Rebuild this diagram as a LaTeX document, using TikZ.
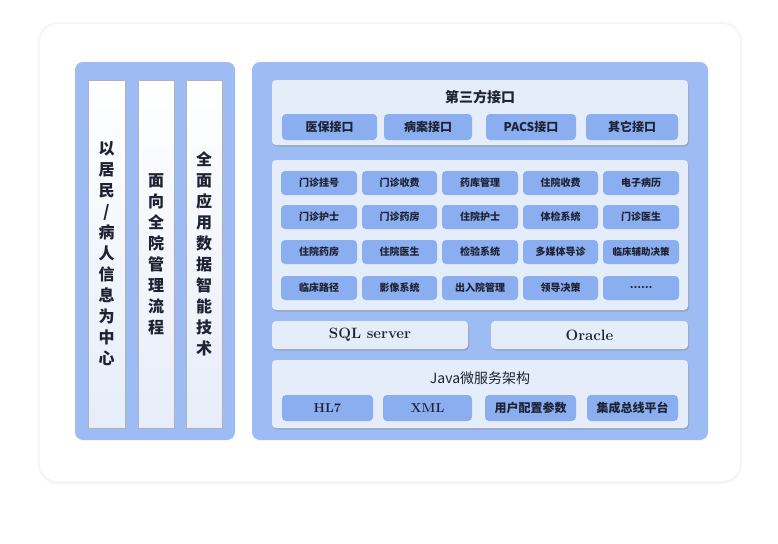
\documentclass[tikz,border=0pt]{standalone}
\usepackage{fontspec}
\newfontfamily\cjk{Noto Sans CJK SC}
\usetikzlibrary{shadows}
\definecolor{panel}{HTML}{9DBCF3}
\definecolor{btn}{HTML}{8AAEEF}
\definecolor{lite}{HTML}{E6EDFA}
\definecolor{txt}{HTML}{1E2233}
\begin{document}
\begin{tikzpicture}[x=1pt,y=-1pt,
 panelS/.style={fill=panel,draw=none,rounded corners=8pt},
 box/.style={fill=lite,draw=none,rounded corners=4pt,drop shadow={shadow xshift=1pt,shadow yshift=-1.5pt,fill=black!45}},
 col/.style={top color=white,bottom color=lite,draw=black!30,line width=0.4pt},
 btn/.style={fill=btn,draw=none,rounded corners=4pt,font=\cjk\bfseries\fontsize{10}{12}\selectfont,text=txt},
 bbtn/.style={btn,font=\cjk\bfseries\fontsize{12}{14}\selectfont},
 vt/.style={font=\cjk\bfseries\fontsize{16}{21}\selectfont,text=txt,align=center}]
\useasboundingbox (0,0) rectangle (778,543);
\fill[white] (0,0) rectangle (778,543);
\fill[black!4,rounded corners=20pt] (38,22) rectangle (742,484);
\fill[white,rounded corners=18pt] (40,24) rectangle (740,481);
\fill[panelS] (75,62) rectangle (235,440);
\fill[panelS] (252,62) rectangle (708,440);
% columns
\draw[col] (88,80) rectangle (125,428);
\draw[col] (138,80) rectangle (174,428);
\draw[col] (186,80) rectangle (222,428);
\node[vt] (c1) at (106.5,254) {以\\居\\民\\/\\病\\人\\信\\息\\为\\中\\心};
\node[vt] (c2) at (156,254) {面\\向\\全\\院\\管\\理\\流\\程};
\node[vt] (c3) at (204,254) {全\\面\\应\\用\\数\\据\\智\\能\\技\\术};
% third party
\fill[box] (272,80) rectangle (688,145);
\node[font=\cjk\bfseries\fontsize{14}{16}\selectfont,text=txt] (tp) at (480,97) {第三方接口};
\node[bbtn,minimum width=95pt,minimum height=26pt] (i1) at (329.5,127) {医保接口};
\node[bbtn,minimum width=88pt,minimum height=26pt] (i2) at (428,127) {病案接口};
\node[bbtn,minimum width=90pt,minimum height=26pt] (i3) at (531,127) {PACS接口};
\node[bbtn,minimum width=92pt,minimum height=26pt] (i4) at (632,127) {其它接口};
% modules
\fill[box] (272,160) rectangle (688,310);
\def\mrow#1#2#3#4#5#6{%
 \node[btn,minimum width=76pt,minimum height=24pt] (m#1a) at (319,#2) {#3};
 \node[btn,minimum width=75pt,minimum height=24pt] (m#1b) at (399.5,#2) {#4};
 \node[btn,minimum width=76pt,minimum height=24pt] (m#1c) at (480,#2) {#5};
 \node[btn,minimum width=75pt,minimum height=24pt] (m#1d) at (560.5,#2) {#6};}
\mrow{1}{183}{门诊挂号}{门诊收费}{药库管理}{住院收费}
\node[btn,minimum width=76pt,minimum height=24pt] (m1e) at (641,183) {电子病历};
\mrow{2}{217}{门诊护士}{门诊药房}{住院护士}{体检系统}
\node[btn,minimum width=76pt,minimum height=24pt] (m2e) at (641,217) {门诊医生};
\mrow{3}{252}{住院药房}{住院医生}{检验系统}{多媒体导诊}
\node[btn,minimum width=76pt,minimum height=24pt,font=\cjk\bfseries\fontsize{9.5}{12}\selectfont] (m3e) at (641,252) {临床辅助决策};
\mrow{4}{288}{临床路径}{影像系统}{出入院管理}{领导决策}
\node[btn,minimum width=76pt,minimum height=24pt] (m4e) at (641,288) {……};
% db
\fill[box] (272,321) rectangle (468,349);
\node[font=\bfseries\fontsize{15}{17}\selectfont,text=txt] (sql) at (370,335) {SQL server};
\fill[box] (491,321) rectangle (688,349);
\node[font=\bfseries\fontsize{15}{17}\selectfont,text=txt] (ora) at (589.5,335) {Oracle};
% java
\fill[box] (272,360) rectangle (688,428);
\node[font=\cjk\fontsize{14}{16}\selectfont,text=txt] (jv) at (480,378) {Java微服务架构};
\node[btn,font=\bfseries\fontsize{13}{14}\selectfont,minimum width=91pt,minimum height=26pt] (j1) at (327.5,408) {HL7};
\node[btn,font=\bfseries\fontsize{13}{14}\selectfont,minimum width=89pt,minimum height=26pt] (j2) at (427.5,408) {XML};
\node[bbtn,minimum width=91pt,minimum height=26pt] (j3) at (530.5,408) {用户配置参数};
\node[bbtn,minimum width=91pt,minimum height=26pt] (j4) at (632.5,408) {集成总线平台};
\end{tikzpicture}
\end{document}
